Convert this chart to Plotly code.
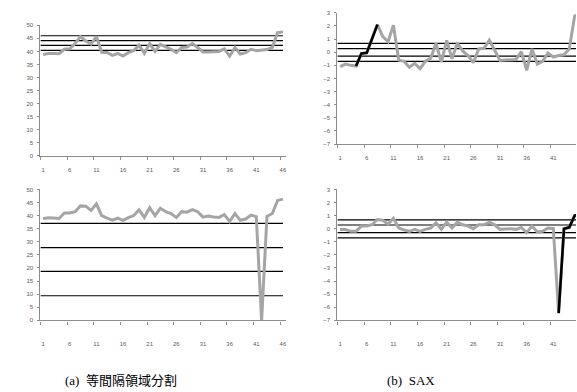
import plotly.graph_objects as go

# ---------------- data ----------------
idx = list(range(1, 47))

# (a) equal-interval: raw series (top: normal, bottom: with dropout)
raw_top = [38.8, 39.2, 39.2, 39.1, 40.8, 41.0, 43.0, 45.7, 44.0, 42.8, 45.7, 39.7,
           39.6, 38.5, 39.2, 38.2, 39.5, 40.3, 42.4, 39.3, 43.0, 40.0, 42.7, 41.8,
           40.8, 39.5, 41.5, 41.7, 43.0, 41.5, 39.8, 39.8, 40.0, 40.0, 41.0, 38.2,
           41.5, 39.0, 39.5, 40.8, 40.3, 40.5, 40.7, 41.5, 47.2, 47.5]
raw_bottom = [38.8, 39.2, 39.1, 38.9, 41.0, 41.0, 41.5, 43.7, 43.6, 42.0, 44.5, 40.0,
              39.0, 38.3, 39.0, 38.2, 39.2, 40.0, 42.2, 39.3, 43.0, 40.0, 42.8, 41.5,
              40.8, 39.3, 41.5, 41.3, 42.3, 41.5, 39.4, 39.8, 39.5, 39.3, 40.4, 37.8,
              40.8, 38.2, 38.7, 40.2, 39.6, 0.0, 39.7, 40.8, 45.8, 46.3]
ew_top = [40.4, 42.3, 44.1, 46.0]
ew_bottom = [9.4, 18.7, 27.8, 37.0]

# (b) SAX: z-normalised series
z_top = [-1.1, -0.9, -1.0, -1.05, -0.1, -0.05, 1.05, 2.1, 1.2, 0.8, 2.05, -0.6,
         -0.7, -1.15, -0.85, -1.25, -0.7, -0.45, 0.68, -0.75, 0.9, -0.5, 0.7, 0.1,
         -0.25, -0.8, 0.25, 0.3, 0.92, 0.1, -0.63, -0.6, -0.55, -0.55, 0.05, -1.38,
         0.25, -0.9, -0.7, -0.05, -0.37, -0.25, -0.2, 0.25, 2.75, 2.9]
z_bottom = [-0.06, -0.06, -0.2, -0.2, 0.2, 0.2, 0.3, 0.7, 0.65, 0.35, 0.8, 0.05,
            -0.1, -0.2, -0.05, -0.2, -0.05, 0.05, 0.45, -0.05, 0.5, 0.05, 0.5, 0.3,
            0.2, 0.0, 0.3, 0.3, 0.5, 0.3, -0.05, 0.0, 0.0, -0.05, 0.1, -0.3,
            0.2, -0.25, -0.2, 0.05, 0.0, -6.45, 0.0, 0.1, 1.0, 1.1]
sax_breaks = [-0.7, -0.3, 0.28, 0.68]
hl_top = (4, 8)      # highlighted pattern (1-based, inclusive)
hl_bottom = (42, 46)

left_yticks = list(range(0, 51, 5))
right_yticks = list(range(-7, 4))

captions = ["(a)  等間隔領域分割", "(b)  SAX"]

# ---------------- style ----------------
W, H = 577, 392
GREY = "#a5a5a5"
AXC = "#8c8c8c"
TXT = "#595959"
TF = dict(family="Liberation Sans, Arial, sans-serif", size=6, color=TXT)


def px_x(p):
    return p / W


def px_y(p):
    return 1 - p / H


fig = go.Figure()

panels = [
    (raw_top, ew_top, None, "x", "y"),
    (z_top, sax_breaks, hl_top, "x2", "y2"),
    (raw_bottom, ew_bottom, None, "x3", "y3"),
    (z_bottom, sax_breaks, hl_bottom, "x4", "y4"),
]

for series, thr, hl, xa, ya in panels:
    right = xa in ("x2", "x4")
    xend = 46.5 if right else 46
    for t in thr:
        fig.add_trace(go.Scatter(x=[0.5, xend], y=[t, t], mode="lines",
                                 line=dict(color="#000000", width=1.2),
                                 xaxis=xa, yaxis=ya, showlegend=False, hoverinfo="skip"))
    fig.add_trace(go.Scatter(x=idx, y=series, mode="lines",
                             line=dict(color=GREY, width=3),
                             xaxis=xa, yaxis=ya, showlegend=False))
    if hl:
        a, b = hl
        fig.add_trace(go.Scatter(x=idx[a - 1:b], y=series[a - 1:b], mode="lines",
                                 line=dict(color="#000000", width=2.6),
                                 xaxis=xa, yaxis=ya, showlegend=False))

# axes geometry (pixels)
left_x = (40.5, 286.1)
right_x0 = 338.0
step = 5.34
right_range_end = 0.5 + (W - right_x0) / step

ydom = {
    "y": (155.0, 22.7),
    "y2": (143.3, 10.0),
    "y3": (322.3, 189.3),
    "y4": (322.3, 189.3),
}

common_x = dict(showgrid=False, zeroline=False, showline=True, linecolor=AXC, linewidth=1.3,
                tickmode="linear", tick0=1, dtick=5, ticks="", tickfont=TF,
                minor=dict(tick0=0.5, dtick=5, ticks="outside", ticklen=3,
                           tickcolor=AXC, tickwidth=1),
                fixedrange=True)
common_y = dict(showgrid=False, zeroline=False, showline=True, linecolor=AXC, linewidth=1.3,
                ticks="outside", ticklen=2, tickcolor=AXC, tickfont=TF,
                ticklabelstandoff=3, fixedrange=True)

layout = dict(width=W, height=H, margin=dict(l=0, r=0, t=0, b=0),
              paper_bgcolor="white", plot_bgcolor="white", showlegend=False)

for xa, ya in [("x", "y"), ("x2", "y2"), ("x3", "y3"), ("x4", "y4")]:
    right = xa in ("x2", "x4")
    top = xa in ("x", "x2")
    xkey = "xaxis" if xa == "x" else "xaxis" + xa[1:]
    ykey = "yaxis" if ya == "y" else "yaxis" + ya[1:]
    if right:
        xdom = [px_x(right_x0), 1.0]
        xr = [0.5, right_range_end]
    else:
        xdom = [px_x(left_x[0]), px_x(left_x[1])]
        xr = [0.5, 46.5]
    b, t = ydom[ya]
    layout[xkey] = dict(common_x, domain=xdom, range=xr, anchor=ya,
                        ticklabelstandoff=8 if top else 17)
    if right:
        layout[ykey] = dict(common_y, domain=[px_y(b), px_y(t)], range=[-7, 3],
                            tickvals=right_yticks, anchor=xa)
    else:
        layout[ykey] = dict(common_y, domain=[px_y(b), px_y(t)], range=[0, 50],
                            tickvals=left_yticks, anchor=xa)

fig.update_layout(**layout)

cap_font = dict(family="Liberation Serif, Noto Sans CJK JP, serif", size=13, color="#000000")
for text, cx in zip(captions, [121, 412]):
    fig.add_annotation(text=text, x=px_x(cx), y=px_y(383), xref="paper", yref="paper",
                       showarrow=False, font=cap_font, xanchor="center", yanchor="middle")

fig.write_html("out.html",
               config={"displayModeBar": False},
               post_script="document.body.style.margin='0px';"
                           "document.body.style.overflow='hidden';")
